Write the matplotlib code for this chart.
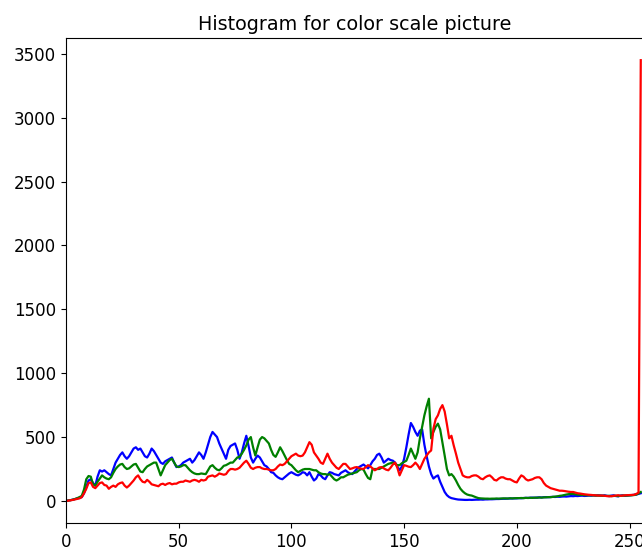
import numpy as np
import matplotlib
matplotlib.use("Agg")
import matplotlib.pyplot as plt

# pixel counts per intensity level (0..255)
blue = [
    0, 3, 6, 10, 15, 20, 25, 30, 60, 110,
    160, 170, 140, 120, 190, 240, 230, 240, 225, 210,
    200, 250, 300, 330, 360, 380, 350, 330, 350, 380,
    410, 420, 400, 410, 380, 350, 340, 370, 410, 390,
    360, 330, 300, 290, 310, 320, 330, 340, 300, 265,
    270, 280, 300, 310, 320, 330, 300, 320, 350, 380,
    360, 330, 380, 440, 500, 540, 520, 500, 450, 410,
    370, 330, 400, 430, 440, 450, 400, 330, 380, 450,
    510, 430, 340, 300, 330, 355, 340, 310, 280, 270,
    250, 225, 220, 200, 185, 175, 170, 185, 200, 215,
    225, 215, 205, 200, 210, 225, 220, 200, 225, 190,
    160, 175, 210, 200, 180, 170, 200, 225, 220, 210,
    205, 200, 220, 230, 240, 225, 215, 210, 230, 250,
    265, 275, 285, 270, 255, 280, 310, 330, 360, 370,
    340, 300, 315, 330, 320, 315, 300, 270, 240, 270,
    330, 420, 520, 610, 580, 540, 510, 550, 560, 440,
    350, 270, 210, 175, 190, 200, 150, 110, 70, 45,
    30, 22, 18, 14, 11, 10, 9, 8, 8, 9,
    8, 9, 10, 10, 11, 10, 12, 12, 13, 13,
    14, 15, 15, 16, 17, 17, 18, 19, 19, 20,
    20, 22, 21, 23, 24, 24, 25, 26, 25, 27,
    28, 27, 29, 30, 29, 31, 32, 31, 33, 32,
    34, 35, 34, 36, 38, 37, 39, 38, 40, 41,
    39, 40, 42, 41, 43, 42, 44, 43, 42, 44,
    40, 38, 42, 44, 38, 36, 42, 44, 40, 42,
    44, 46, 48, 50, 55, 60,
]

green = [
    0, 3, 6, 10, 15, 22, 30, 40, 90, 170,
    195, 190, 130, 120, 150, 175, 200, 185, 175, 170,
    185, 220, 250, 270, 285, 290, 265, 250, 255, 270,
    285, 290, 260, 230, 225, 250, 270, 280, 290, 300,
    300, 250, 200, 240, 280, 300, 320, 330, 300, 270,
    265, 270, 280, 280, 260, 240, 225, 215, 210, 210,
    215, 212, 210, 240, 270, 280, 260, 245, 240, 255,
    275, 280, 290, 300, 300, 320, 340, 345, 370, 400,
    435, 480, 500, 420, 355, 420, 480, 500, 490, 470,
    450, 400, 360, 345, 380, 420, 390, 355, 320, 290,
    280, 260, 240, 225, 235, 245, 250, 250, 250, 245,
    240, 240, 225, 215, 210, 210, 205, 210, 190, 170,
    160, 170, 185, 185, 195, 205, 210, 215, 220, 225,
    240, 250, 245, 210, 180, 170, 250, 250, 250, 250,
    260, 270, 280, 290, 295, 300, 290, 280, 280, 295,
    305, 315, 360, 410, 370, 330, 380, 490, 580, 670,
    740, 800, 490, 540, 580, 605, 560, 460, 355, 250,
    200, 210, 190, 160, 125, 95, 75, 60, 50, 45,
    42, 35, 28, 22, 20, 19, 18, 18, 17, 18,
    18, 19, 18, 19, 20, 20, 19, 21, 20, 21,
    22, 22, 23, 22, 24, 23, 25, 24, 26, 25,
    27, 26, 28, 28, 30, 29, 32, 34, 36, 40,
    42, 46, 50, 53, 55, 55, 52, 50, 48, 47,
    46, 45, 44, 44, 43, 42, 42, 41, 40, 40,
    39, 40, 38, 39, 40, 38, 40, 41, 42, 42,
    43, 44, 46, 50, 58, 70,
]

red = [
    0, 2, 5, 8, 12, 16, 20, 30, 60, 95,
    140, 145, 110, 100, 120, 140, 145, 125, 120, 95,
    110, 120, 110, 130, 140, 145, 120, 105, 120, 140,
    160, 185, 200, 170, 150, 145, 165, 150, 130, 125,
    120, 115, 130, 135, 125, 135, 140, 130, 135, 135,
    145, 150, 150, 160, 155, 150, 160, 165, 160, 150,
    165, 160, 165, 190, 195, 200, 190, 200, 215, 210,
    205, 210, 235, 250, 250, 245, 250, 260, 280, 300,
    315, 290, 260, 250, 260, 265, 265, 255, 250, 250,
    245, 240, 240, 250, 270, 285, 280, 290, 310, 330,
    350, 360, 370, 355, 350, 355, 380, 420, 460, 440,
    380, 355, 330, 300, 290, 330, 370, 330, 300, 280,
    260, 250, 270, 290, 290, 270, 250, 255, 262, 265,
    258, 252, 250, 265, 280, 270, 255, 240, 250, 262,
    265, 255, 245, 240, 260, 285, 300, 260, 200, 240,
    280, 275, 268, 265, 280, 300, 280, 250, 290, 330,
    355, 380, 395, 565, 640, 670, 720, 750, 700, 600,
    490, 510, 435, 370, 300, 250, 200, 190, 185, 185,
    195, 200, 200, 190, 175, 170, 185, 195, 200, 185,
    165, 160, 175, 185, 185, 175, 170, 170, 160, 150,
    145, 175, 200, 190, 170, 160, 165, 170, 180, 185,
    185, 170, 140, 120, 110, 100, 95, 90, 85, 80,
    80, 78, 75, 72, 70, 70, 65, 60, 58, 55,
    52, 50, 48, 47, 45, 44, 42, 42, 42, 40,
    38, 36, 37, 40, 42, 45, 40, 42, 44, 45,
    46, 47, 48, 55, 65, 3450,
]

channels = {'b': blue, 'g': green, 'r': red}

fig = plt.figure(figsize=(6.42, 5.56), dpi=100)
# axes runs a little past the right edge, like the cropped original
ax = fig.add_axes([0.1028, 0.0594, 0.8988, 0.872])

for col, hist in channels.items():
    ax.plot(np.arange(len(hist)), hist, color=col, linewidth=1.6)

ax.set_xlim([0, 256])
ax.set_title('Histogram for color scale picture', fontsize=13.8)
ax.tick_params(labelsize=12)

fig.savefig('out.png', dpi=100)
